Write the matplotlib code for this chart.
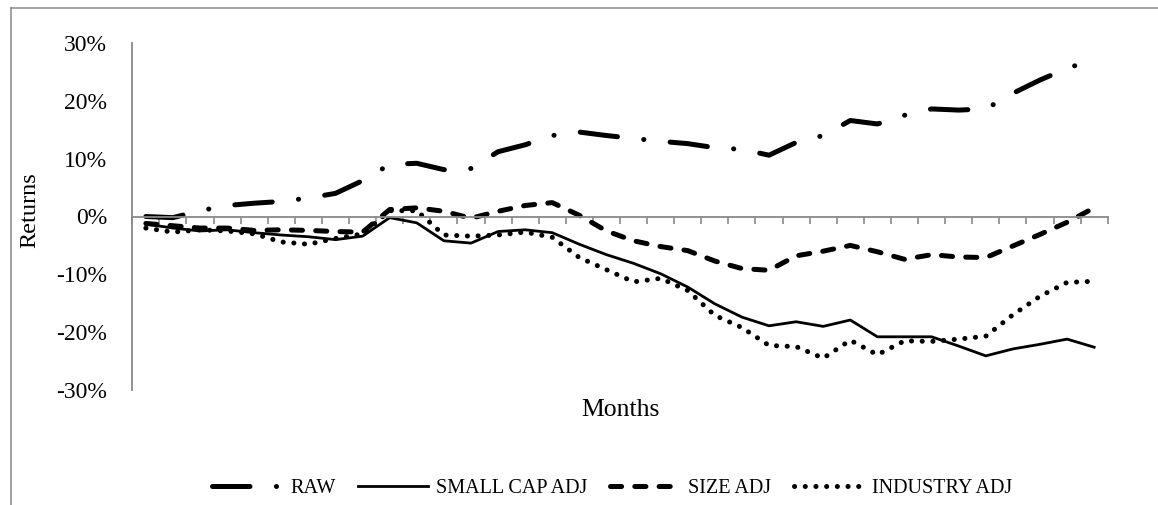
import matplotlib
matplotlib.use("Agg")
import matplotlib.pyplot as plt
from matplotlib.lines import Line2D
import numpy as np

# cumulative returns (%), one value per month
raw = [0.0, -0.2, 1.0, 1.9, 2.3, 2.6, 3.2, 4.0, 6.2, 9.0, 9.2, 8.1, 8.3, 11.2,
       12.4, 14.0, 14.6, 14.0, 13.5, 13.0, 12.6, 11.9, 11.6, 10.6, 12.8, 14.0,
       16.6, 16.0, 17.5, 18.6, 18.4, 18.6, 21.3, 23.6, 25.6, 27.2]
small_cap = [-1.3, -2.0, -2.5, -2.3, -2.8, -3.2, -3.5, -4.0, -3.4, -0.2, -1.1,
             -4.2, -4.6, -2.6, -2.3, -2.8, -4.8, -6.6, -8.1, -9.9, -12.2, -15.1,
             -17.4, -18.9, -18.2, -19.0, -17.9, -20.8, -20.8, -20.8, -22.4,
             -24.1, -22.9, -22.1, -21.2, -22.6]
size_adj = [-1.2, -1.6, -2.0, -2.0, -2.4, -2.3, -2.4, -2.6, -2.7, 1.2, 1.5, 0.9,
            -0.3, 0.9, 1.9, 2.4, 0.2, -2.5, -4.2, -5.2, -5.9, -7.7, -9.0, -9.3,
            -6.8, -6.0, -5.0, -6.1, -7.4, -6.6, -7.0, -7.1, -5.1, -3.1, -1.0, 1.5]
industry = [-2.0, -2.7, -2.3, -2.5, -3.0, -4.4, -4.8, -3.8, -3.0, 1.0, 1.0, -3.2,
            -3.4, -3.2, -2.7, -3.6, -7.1, -9.2, -11.3, -10.7, -12.8, -17.1,
            -19.2, -22.3, -22.5, -24.5, -21.4, -23.9, -21.5, -21.6, -21.2,
            -20.7, -17.0, -13.8, -11.4, -11.2]
months = np.arange(len(raw))
yticks = [-30, -20, -10, 0, 10, 20, 30]

plt.rcParams["font.family"] = ["Liberation Serif", "DejaVu Serif"]
plt.rcParams["lines.scale_dashes"] = False
gray = "#898989"

W, H = 1158, 505
fig = plt.figure(figsize=(W / 100, H / 100), dpi=100)
ax = fig.add_axes([132.3 / W, 1 - 390 / H, (1107.7 - 132.3) / W, (390 - 43) / H])

ax.plot(months, raw, color="black", lw=3.6, dashes=(27, 19, 0.1, 19),
        dash_capstyle="round", label="RAW")
ax.plot(months, small_cap, color="black", lw=2.0, label="SMALL CAP ADJ")
ax.plot(months, size_adj, color="black", lw=3.6, dashes=(8, 9.5),
        dash_capstyle="round", label="SIZE ADJ")
ax.plot(months, industry, color="black", lw=3.6, dashes=(0.1, 7.6),
        dash_capstyle="round", label="INDUSTRY ADJ")

ax.set_xlim(-0.5, len(raw) - 0.5)
ax.set_ylim(-30, 30)
ax.set_yticks(yticks)
ax.yaxis.set_major_formatter(lambda v, p: f"{v:.0f}%")
ax.tick_params(axis="y", length=0, pad=18, labelsize=17)

# category axis sits on the zero line, ticks between months
ax.set_xticks(np.arange(-0.5, len(raw), 1))
ax.set_xticklabels([])
ax.tick_params(axis="x", direction="out", length=5, width=1.2, color=gray)
ax.spines["bottom"].set_position(("data", 0))
for s in ["bottom", "left"]:
    ax.spines[s].set_color(gray)
    ax.spines[s].set_linewidth(1.3)
ax.spines["top"].set_visible(False)
ax.spines["right"].set_visible(False)

fig.text(620 / W, 1 - 410 / H, "Months", ha="center", va="center", fontsize=18.5)
fig.text(30 / W, 1 - 210 / H, "Returns", ha="center", va="center",
         rotation=90, fontsize=17.5)

fig.legend(ncol=4, loc="center", bbox_to_anchor=(612 / W, 1 - 488 / H),
           frameon=False, fontsize=14.5, handlelength=3.5, handletextpad=0.4,
           columnspacing=1.1)

# chart area border (only left and top show in the crop)
fig.add_artist(Line2D([11 / W, 11 / W], [0, 1 - 8 / H], color=gray, lw=1.1,
                      transform=fig.transFigure))
fig.add_artist(Line2D([11 / W, 1], [1 - 8 / H, 1 - 8 / H], color=gray, lw=1.1,
                      transform=fig.transFigure))

fig.savefig("out.png", dpi=100)
